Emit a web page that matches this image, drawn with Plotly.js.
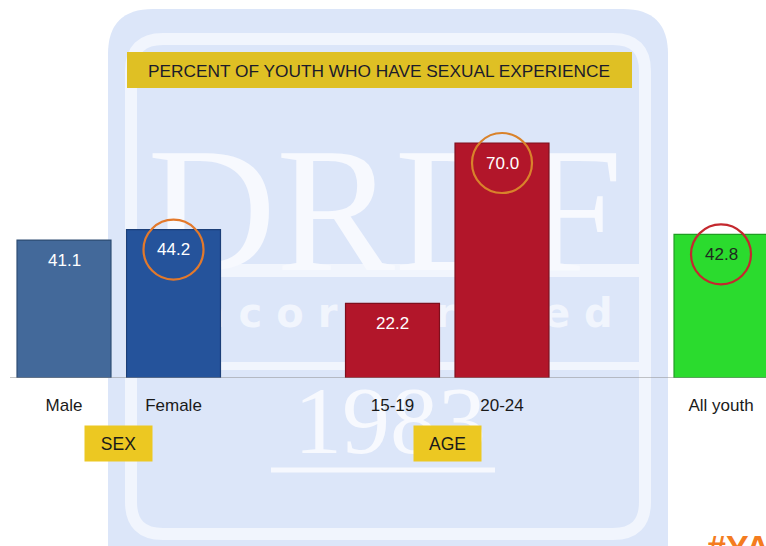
<!DOCTYPE html>
<html>
<head>
<meta charset="utf-8">
<script src="https://cdn.plot.ly/plotly-3.0.1.min.js"></script>
<style>html,body{margin:0;padding:0;background:#fff;}#chart{width:766px;height:546px;}</style>
</head>
<body>
<div id="chart"></div>
<script>
// ---- data ----
const categories = ["Male", "Female", "15-19", "20-24", "All youth"];
const slots = [0, 1, 3, 4, 6];
const values = [41.1, 44.2, 22.2, 70.0, 42.8];
const barColors = ["#43699A", "#25539B", "#B2162A", "#B2162A", "#2BDB2E"];
const barEdges = ["#2E4C73", "#1C3F78", "#7E0F1D", "#7E0F1D", "#1F9E22"];
const valueTextColors = ["#FFFFFF", "#FFFFFF", "#FFFFFF", "#FFFFFF", "#1E2A1E"];
const circled = [1, 3, 4];
const circleColors = ["#E3792B", "#D9822B", "#C4282E"];
const groupLabels = ["SEX", "AGE"];
const groupCenters = [0.5, 3.5];
const titleText = "PERCENT OF YOUTH WHO HAVE SEXUAL EXPERIENCE";

// ---- geometry helpers (pixel -> paper) ----
const W = 766, H = 546, B = 168, PH = H - B;
const X = px => px / W;
const Y = py => (PH - py) / PH;
const FONT = "Arial, 'Liberation Sans', sans-serif";

function rrect(x0, y0, x1, y1, r) {
  const a = X(x0), b = X(x1), c = Y(y0), d = Y(y1);
  const rx = r / W, ry = r / PH;
  return `M${a + rx},${c} L${b - rx},${c} Q${b},${c} ${b},${c - ry} L${b},${d + ry} Q${b},${d} ${b - rx},${d} L${a + rx},${d} Q${a},${d} ${a},${d + ry} L${a},${c - ry} Q${a},${c} ${a + rx},${c} Z`;
}

const shapes = [
  // watermark background
  {type: "path", xref: "paper", yref: "paper", layer: "below", path: rrect(108, 9, 668, 600, 45),
   fillcolor: "#DCE6F9", line: {width: 0}},
  {type: "path", xref: "paper", yref: "paper", layer: "below", path: rrect(131, 39, 645, 534, 32),
   fillcolor: "rgba(0,0,0,0)", line: {color: "#F1F5FD", width: 12}},
  {type: "rect", xref: "paper", yref: "paper", layer: "below", x0: X(137), x1: X(639), y0: Y(264), y1: Y(277),
   fillcolor: "#F1F5FD", line: {width: 0}},
  {type: "rect", xref: "paper", yref: "paper", layer: "below", x0: X(137), x1: X(639), y0: Y(362), y1: Y(370),
   fillcolor: "#F1F5FD", line: {width: 0}},
  {type: "line", xref: "paper", yref: "paper", layer: "below", x0: X(271), x1: X(495), y0: Y(470), y1: Y(470),
   line: {color: "#F6F8FE", width: 5}},
  // watermark words
  {type: "rect", xref: "paper", yref: "paper", layer: "below", x0: X(140), x1: X(630), y0: Y(120), y1: Y(262),
   fillcolor: "rgba(0,0,0,0)", line: {width: 0},
   label: {text: "DRDF", textposition: "middle center", font: {family: "'Liberation Serif', 'DejaVu Serif', serif", size: 178, color: "#F7F9FE"}}},
  {type: "rect", xref: "paper", yref: "paper", layer: "below", x0: X(150), x1: X(630), y0: Y(285), y1: Y(335),
   fillcolor: "rgba(0,0,0,0)", line: {width: 0},
   label: {text: "I n c o r p o r a t e d", textposition: "middle center", font: {family: "'DejaVu Sans', sans-serif", size: 40, weight: 700, color: "#F1F5FD"}}},
  {type: "rect", xref: "paper", yref: "paper", layer: "below", x0: X(280), x1: X(500), y0: Y(368), y1: Y(452),
   fillcolor: "rgba(0,0,0,0)", line: {width: 0},
   label: {text: "1983", textposition: "middle center", font: {family: "'Liberation Serif', 'DejaVu Serif', serif", size: 96, color: "#F7F9FE"}}},
  // title box
  {type: "rect", xref: "paper", yref: "paper", layer: "below", x0: X(127), x1: X(632), y0: Y(52), y1: Y(88),
   fillcolor: "#DFC024", line: {width: 0}},
  // baseline
  {type: "line", xref: "paper", yref: "y", layer: "above", x0: X(10), x1: 1, y0: 0, y1: 0,
   line: {color: "#8C8C8C", width: 1}}
];

// highlight circles around selected value labels
circled.forEach((idx, k) => {
  shapes.push({type: "circle", xref: "x", yref: "y", xsizemode: "pixel", ysizemode: "pixel",
    xanchor: slots[idx], yanchor: values[idx], x0: -30, x1: 30, y0: -50, y1: 10,
    line: {color: circleColors[k], width: 2.2}, fillcolor: "rgba(0,0,0,0)", layer: "above"});
});

const annotations = [];
values.forEach((v, i) => {
  annotations.push({x: slots[i], y: v, xref: "x", yref: "y", text: v.toFixed(1), showarrow: false,
    yshift: -20, yanchor: "middle", font: {family: FONT, size: 17, color: valueTextColors[i]}});
});
groupLabels.forEach((g, i) => {
  annotations.push({x: groupCenters[i], xref: "x", y: Y(443.5), yref: "paper", text: g, showarrow: false,
    width: 67, height: 35, bgcolor: "#ECC822", borderpad: 0, yanchor: "middle",
    font: {family: FONT, size: 17.5, color: "#1a1a1a"}});
});
annotations.push({x: X(705), xref: "paper", xanchor: "left", y: Y(526), yref: "paper", yanchor: "top",
  text: "<b>#YAFS</b>", showarrow: false, font: {family: FONT, size: 34, color: "#F47C20"}});

const trace = {
  type: "bar", x: slots, y: values, width: 0.858,
  marker: {color: barColors, line: {color: barEdges, width: 1.2}},
  hoverinfo: "skip"
};

const layout = {
  width: W, height: H,
  margin: {l: 0, r: 0, t: 0, b: B, pad: 0},
  paper_bgcolor: "#FFFFFF", plot_bgcolor: "rgba(0,0,0,0)",
  showlegend: false,
  title: {text: titleText, xref: "paper", x: X(379), xanchor: "center", yref: "container", y: 1 - 71 / H, yanchor: "middle",
    font: {family: FONT, size: 17.3, color: "#1b1b2b"}},
  xaxis: {range: [-64 / 109.5, 702 / 109.5], tickmode: "array", tickvals: slots, ticktext: categories,
    showgrid: false, zeroline: false, showline: false, ticks: "", ticklabelstandoff: 15,
    tickfont: {family: FONT, size: 17, color: "#1a1a1a"}, fixedrange: true},
  yaxis: {range: [0, PH / 3.357], visible: false, showgrid: false, zeroline: false, fixedrange: true},
  shapes: shapes, annotations: annotations
};

Plotly.newPlot("chart", [trace], layout, {displayModeBar: false, staticPlot: true});
</script>
</body>
</html>
